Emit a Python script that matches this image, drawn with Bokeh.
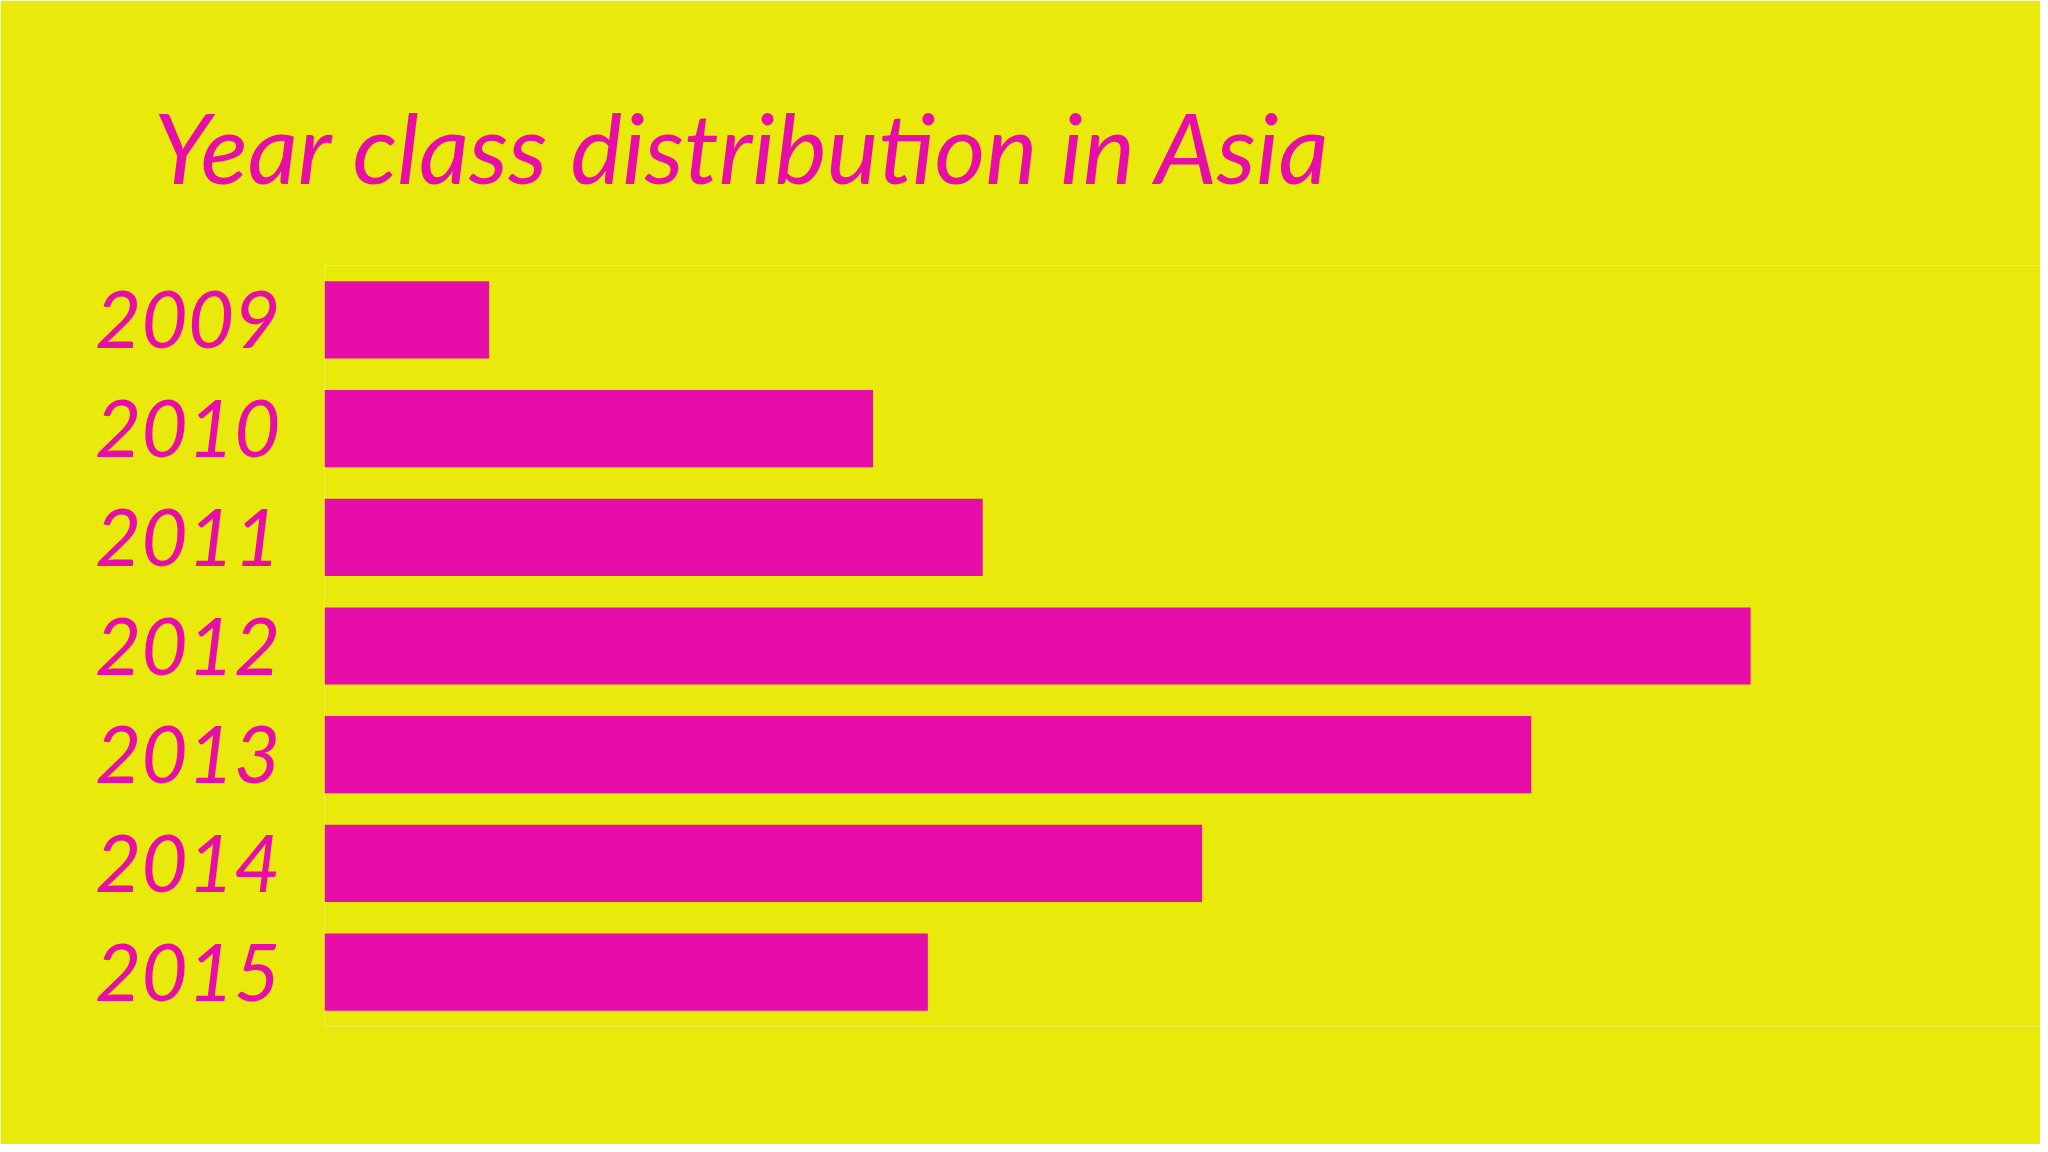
from bokeh.embed import file_html
from bokeh.resources import INLINE
from bokeh.models import ColumnDataSource, FactorRange, Range1d
from bokeh.plotting import figure

# share of each year class, in percent
years = ["2009", "2010", "2011", "2012", "2013", "2014", "2015"]
shares = [3, 10, 12, 26, 22, 16, 11]

title_text = "Year class distribution in Asia"

yellow = "#E9E90C"
magenta = "#E70DA9"
font = "Lato"

W, H = 2040, 1144
left, right, top, bottom = 324, 0, 265, 118
px_per_unit = 54.85

source = ColumnDataSource(dict(year=years, share=shares))

p = figure(width=W, height=H, title=title_text,
           y_range=FactorRange(factors=years[::-1]),
           x_range=Range1d(0, (W - left - right) / px_per_unit),
           output_backend="svg", toolbar_location=None)

p.min_border_left = left
p.min_border_right = right
p.min_border_top = top
p.min_border_bottom = bottom

p.background_fill_color = yellow
p.border_fill_color = yellow
p.outline_line_color = None
p.grid.visible = False
p.xaxis.visible = False

p.hbar(y="year", left=0, right="share", height=0.71,
       fill_color=magenta, line_color=None, source=source)

p.yaxis.axis_line_color = None
p.yaxis.major_tick_line_color = None
p.yaxis.minor_tick_line_color = None
p.yaxis.major_label_standoff = 38
p.yaxis.major_label_text_font = font
p.yaxis.major_label_text_font_style = "italic"
p.yaxis.major_label_text_font_size = "80px"
p.yaxis.major_label_text_color = magenta

p.title.text_font = font
p.title.text_font_style = "italic"
p.title.text_font_size = "98px"
p.title.text_color = magenta
p.title.align = "left"
p.title.offset = -171
p.title.standoff = 122

open("out.html", "w").write(file_html(p, INLINE))
